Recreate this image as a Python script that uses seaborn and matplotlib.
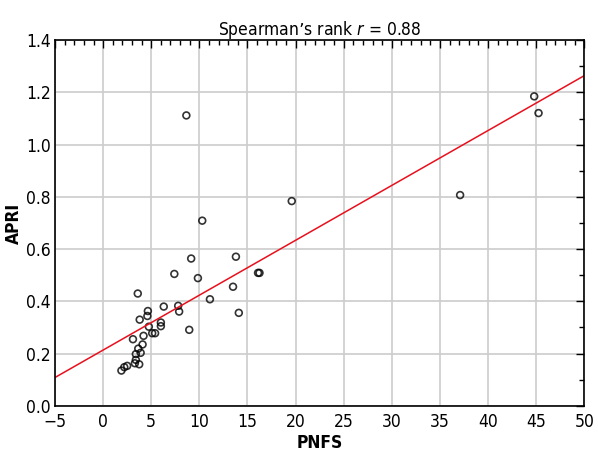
import numpy as np
import pandas as pd
import seaborn as sns
import matplotlib.pyplot as plt
from matplotlib.ticker import MultipleLocator

pnfs = [1.9, 2.2, 2.5, 3.3, 3.4, 3.75, 3.4, 3.65, 3.9, 4.1, 3.1, 4.2, 4.75, 5.1, 5.4,
        3.8, 4.6, 4.65, 3.6, 6.0, 6.0, 6.3, 7.8, 7.9, 7.4, 9.15, 9.85, 8.95, 11.1,
        8.65, 10.3, 19.6, 13.8, 16.1, 16.25, 13.5, 14.1, 44.8, 45.25, 37.1]
apri = [0.135, 0.148, 0.153, 0.163, 0.176, 0.159, 0.198, 0.219, 0.203, 0.235, 0.255,
        0.268, 0.303, 0.278, 0.278, 0.330, 0.344, 0.363, 0.430, 0.319, 0.305, 0.380,
        0.383, 0.361, 0.505, 0.564, 0.489, 0.291, 0.408, 1.112, 0.709, 0.784, 0.571,
        0.509, 0.509, 0.456, 0.356, 1.185, 1.121, 0.807]

df = pd.DataFrame({'PNFS': pnfs, 'APRI': apri})

sns.set_theme(style='white')
plt.rcParams['font.family'] = ['DejaVu Sans']
plt.rcParams['font.stretch'] = 'condensed'
plt.rcParams['text.color'] = 'black'
plt.rcParams['axes.labelcolor'] = 'black'
plt.rcParams['xtick.color'] = 'black'
plt.rcParams['ytick.color'] = 'black'
plt.rcParams['mathtext.fontset'] = 'dejavusans'

fig, ax = plt.subplots(figsize=(5.98, 4.57), dpi=100)
fig.subplots_adjust(left=0.092, right=0.977, top=0.912, bottom=0.112)

ax.set_xlim(-5, 50)
ax.set_ylim(0, 1.4)

# scatter + least-squares line stretched over the full x range
sns.regplot(data=df, x='PNFS', y='APRI', ax=ax, ci=None, truncate=False,
            scatter_kws={'s': 24, 'facecolors': 'none', 'edgecolors': 'black', 'linewidths': 1.2},
            line_kws={'color': '#e8101c', 'linewidth': 1.1})

ax.set_xlim(-5, 50)
ax.set_ylim(0, 1.4)
ax.xaxis.set_major_locator(MultipleLocator(5))
ax.xaxis.set_minor_locator(MultipleLocator(1))
ax.yaxis.set_major_locator(MultipleLocator(0.2))
ax.yaxis.set_minor_locator(MultipleLocator(0.1))
ax.yaxis.set_major_formatter(plt.FuncFormatter(lambda v, p: f'{v:.1f}'))
ax.xaxis.set_major_formatter(plt.FuncFormatter(lambda v, p: f'{v:.0f}'.replace('-', '\u2212')))

ax.grid(True, which='major', color='#cccccc', linewidth=1.2)
ax.set_axisbelow(True)
ax.tick_params(which='both', direction='in', top=True, right=True, labelsize=12.5)
ax.tick_params(which='major', length=6, width=1, pad=3)
ax.tick_params(axis='x', which='major', pad=5)
ax.tick_params(which='minor', length=3.5, width=1)
for sp in ax.spines.values():
    sp.set_color('black')
    sp.set_linewidth(1.2)

ax.set_xlabel('PNFS', fontsize=12.5, fontweight='bold', labelpad=2)
ax.set_ylabel('APRI', fontsize=12.5, fontweight='bold', labelpad=2)
ax.set_title('Spearman\u2019s rank $r$ = 0.88', fontsize=12.5, pad=4)

fig.savefig('out.png', dpi=100)
